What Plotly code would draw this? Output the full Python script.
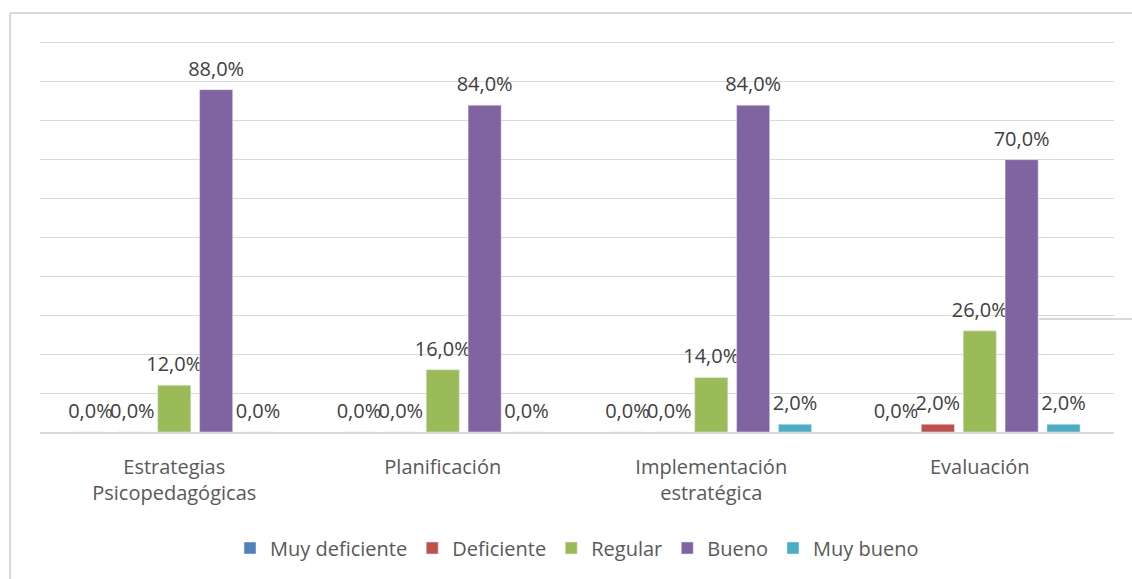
import plotly.graph_objects as go

categories = ["Estrategias<br>Psicopedagógicas", "Planificación", "Implementación<br>estratégica", "Evaluación"]
series_names = ["Muy deficiente", "Deficiente", "Regular", "Bueno", "Muy bueno"]
muy_deficiente = [0.0, 0.0, 0.0, 0.0]
deficiente = [0.0, 0.0, 0.0, 2.0]
regular = [12.0, 16.0, 14.0, 26.0]
bueno = [88.0, 84.0, 84.0, 70.0]
muy_bueno = [0.0, 0.0, 2.0, 2.0]
colors = ["#4F81BD", "#C0504D", "#9BBB59", "#8064A2", "#4BACC6"]

values = [muy_deficiente, deficiente, regular, bueno, muy_bueno]

FONT = "Open Sans"
fig = go.Figure()
for name, vals, col in zip(series_names, values, colors):
    fig.add_trace(go.Bar(
        name=name, x=categories, y=vals, marker_color=col,
        texttemplate="<span style='font-size:20px'>%{y:.1f}%</span><br>&nbsp;",
        textposition="outside", constraintext="none", cliponaxis=False,
        textfont=dict(family=FONT, size=7, color="#404040"),
    ))

L, R, T, B = 40, 18, 41, 147
W, H = 1132, 579
pw, ph = W - L - R, H - T - B
def px(x): return (x - L) / pw
def py(y): return (H - B - y) / ph

fig.update_layout(
    width=W, height=H,
    margin=dict(l=L, r=R, t=T, b=B),
    paper_bgcolor="white", plot_bgcolor="white",
    separators=",.",
    barmode="group", bargap=0.22, bargroupgap=0.21,
    font=dict(family=FONT, color="#595959"),
    showlegend=True,
    legend=dict(orientation="h", x=0.5, xanchor="center", y=py(548), yanchor="middle",
                font=dict(family=FONT, size=20, color="#595959"), itemwidth=30,
                traceorder="normal"),
    xaxis=dict(showgrid=False, showline=True, linecolor="#d9d9d9", linewidth=1.5,
               ticks="", tickfont=dict(family=FONT, size=20, color="#595959"),
               ticklabelstandoff=16),
    yaxis=dict(range=[0, 100.5], tickvals=[0, 10, 20, 30, 40, 50, 60, 70, 80, 90, 100],
               showticklabels=False, showgrid=True,
               gridcolor="#d9d9d9", gridwidth=1.3, zeroline=False, fixedrange=True),
    shapes=[
        dict(type="line", xref="paper", yref="paper", x0=px(10), x1=px(10), y0=py(13), y1=py(579),
             line=dict(color="#d9d9d9", width=2)),
        dict(type="line", xref="paper", yref="paper", x0=px(10), x1=px(1132), y0=py(13), y1=py(13),
             line=dict(color="#d9d9d9", width=2)),
        dict(type="line", xref="paper", yref="paper", x0=px(1039), x1=px(1132), y0=py(319), y1=py(319),
             line=dict(color="#d9d9d9", width=2)),
    ],
)

fig.write_html("out.html", config={"displayModeBar": False},
               post_script="document.body.style.margin='0';")
